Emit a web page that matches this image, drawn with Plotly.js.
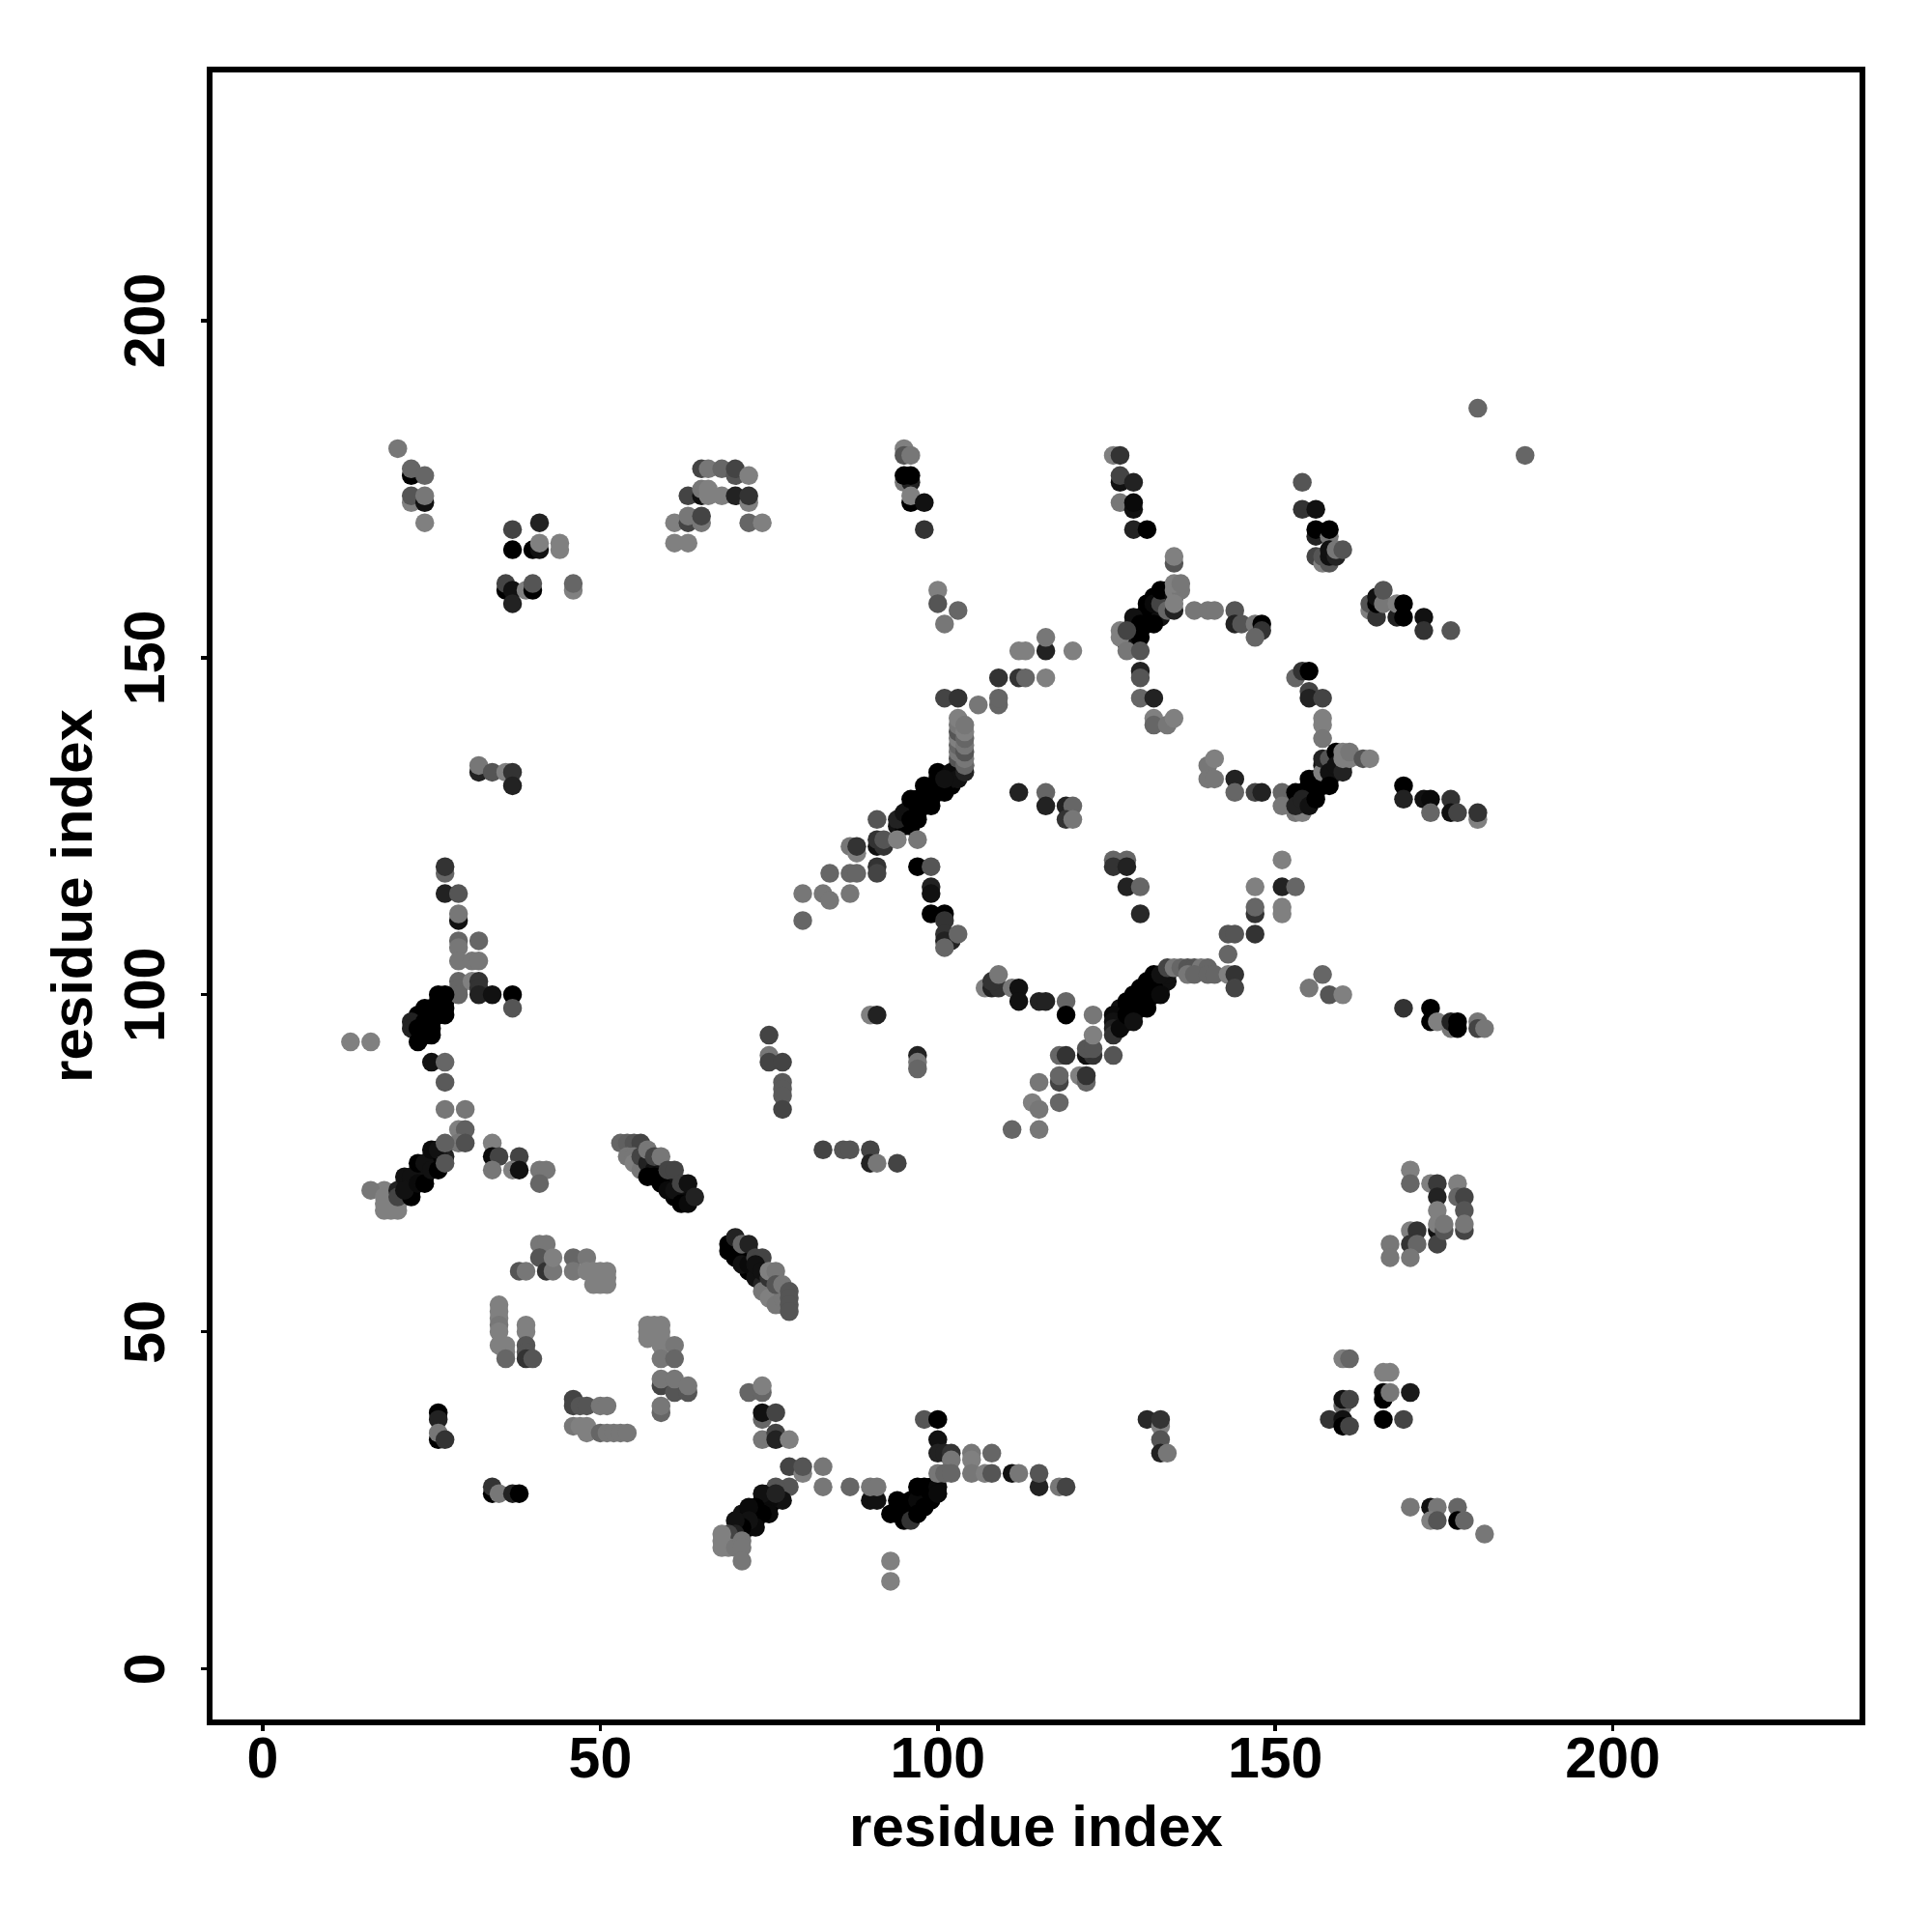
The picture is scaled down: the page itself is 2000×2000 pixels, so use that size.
<!DOCTYPE html>
<html>
<head>
<meta charset="utf-8">
<script src="https://cdn.plot.ly/plotly-3.0.1.min.js"></script>
<style>html,body{margin:0;padding:0;background:#fff}#chart{width:2000px;height:2000px}</style>
</head>
<body>
<div id="chart"></div>
<script>
// every contact: [residue i, residue j, grey level]
const helixInnerContacts = [[21,72,17],[22,71,17],[22,72,0],[23,73,0],[23,74,0],[24,73,0],[24,74,17],[25,75,0],[25,76,0],[26,75,17],[26,76,0],[21,71,34],
 [57,74,17],[58,75,17],[59,74,17],[59,73,0],[60,73,17],[60,72,0],[61,72,17],[61,70,0],[62,71,17],[62,70,0],[63,70,10],
 [70,63,17],[70,62,0],[70,61,0],[71,62,17],[71,61,0],[72,62,17],[72,61,0],[72,59,0],[73,59,17],[74,58,17],[75,57,34],[75,56,68],[76,56,85],[76,55,102],[77,56,119],[77,54,119],
 [71,22,0],[71,20,34],[71,23,17],[72,23,10],[72,21,0],[73,23,0],[73,22,0],[74,25,10],[74,24,0],[75,24,0],[75,26,17],[76,25,0],
 [94,23,0],[95,24,0],[96,23,0],[96,25,0],[97,24,0],[97,26,0],[98,25,0],[98,26,0],[99,25,0],[99,27,0],
 [94,125,17],[95,125,0],[95,126,0],[96,125,0],[96,128,17],[97,127,0],[97,129,0],[98,128,0],[98,129,0],[99,129,0],[99,130,0],[100,131,0],[100,132,0],[101,131,0],[102,131,0],[102,132,17],[103,133,34],[103,134,51],[104,134,85],
 [127,96,0],[127,97,10],[127,98,17],[128,96,17],[128,98,0],[129,97,0],[129,98,0],[129,99,0],[130,98,0],[130,100,0],[131,99,0],[131,100,0],[131,101,0],[132,100,0],[132,102,0],[133,101,0],[133,102,0],[134,102,17],[134,103,17],
 [128,152,17],[129,154,0],[129,155,0],[130,154,0],[130,156,0],[131,155,0],[131,156,0],[131,157,0],[132,156,0],[132,157,0],[132,159,0],[133,156,17],[133,159,0],[134,158,17],[134,159,17],[134,160,34],
 [153,129,0],[154,128,17],[154,130,0],[155,129,0],[155,130,0],[155,131,0],[156,130,0],[156,132,0],[157,131,0],[157,132,0],[157,134,17],[158,132,0],[158,134,17],[159,133,17],[159,135,17],[160,134,34],
 [23,96,0],[23,97,0],[24,95,0],[25,95,0],[25,96,0],[25,97,0],[26,97,0],[26,98,0],[27,98,0],[27,99,0]];
const lowerLeftArm = [[25,90,17],[27,90,102],[27,87,90],[27,83,119],[30,83,119],[29,80,128],[30,80,96],[29,78,119],[30,78,80],
 [18,71,128],[16,71,119],[18,70,128],[18,69,128],[18,68,128],[19,70,128],[19,69,128],[19,68,128],[20,69,128],[20,68,128],[20,71,34],[20,70,68],
 [21,73,17],[22,73,17],[22,70,0],[21,71,17],[23,75,0],[24,75,17],[23,72,10],[24,72,0],[25,77,10],[25,74,17],[26,74,0],[27,76,34],[26,77,17],[27,75,85],[27,78,96]];
const lowerArmB = [[34,78,128],[34,76,10],[35,76,68],[38,76,68],[34,74,119],[37,74,128],[38,74,17],[41,74,119],[42,74,119],[41,72,102]];
const helixBandA = [[53,78,102],[54,78,96],[55,78,85],[56,78,68],[54,76,119],[55,76,119],[55,75,128],[56,74,119],[56,76,68],[57,75,34],[58,74,17],[57,73,0],[58,73,0],[59,72,0],
 [57,77,119],[58,76,68],[59,76,119],[60,74,68],[61,74,68],[60,71,10],[61,71,17],[62,69,0],[63,69,10],[62,72,68],[63,72,17],[64,70,34]];
const helixBandB = [[69,63,0],[69,62,0],[70,64,34],[71,60,17],[72,60,10],[73,58,17],[74,57,34],[74,56,119],[75,55,128],[76,54,119],[77,55,119],
 [71,63,102],[72,63,34],[73,61,68],[74,61,68],[73,60,17],[74,59,17],[75,58,51],[75,59,128],[76,59,119],[76,57,85],[77,57,119],[78,56,85],[78,55,85],[78,54,85],[78,53,85]];
const ringTop = [[41,63,119],[42,63,119],[41,61,85],[42,59,51],[43,59,119],[43,61,128],[38,59,85],[39,59,119],[46,61,102],[48,61,119],[46,59,119],[48,59,128],[49,59,128],[50,59,128],[51,59,128],[50,58,128],[51,58,128],[49,57,128],[50,57,128],[51,57,128]];
const ringLeft = [[35,54,128],[35,53,128],[35,52,128],[35,51,119],[35,50,128],[35,48,128],[36,48,128],[36,47,128],[36,46,102],[39,51,128],[39,50,128],[39,48,85],[39,47,85],[39,46,51],[40,46,85]];
const ringRight = [[57,51,128],[58,51,128],[59,51,128],[57,50,128],[59,50,128],[57,49,128],[59,49,128],[59,48,128],[61,48,119],[59,46,119],[61,46,102],[59,42,68],[59,43,119],[61,41,85],[61,43,119],[63,41,85],[63,42,119],[59,38,102],[59,39,119]];
const ringBottom = [[46,40,68],[46,39,68],[47,39,85],[48,39,85],[50,39,119],[51,39,119],[46,36,119],[47,36,128],[48,36,128],[48,35,128],[50,35,102],[51,35,119],[52,35,119],[53,35,119],[54,35,119]];
const bottomLeft = [[26,38,0],[26,37,34],[26,34,0],[26,35,119],[27,34,51],[34,26,0],[34,27,51],[35,26,119],[37,26,34],[38,26,0]];
const lowerBandA = [[72,41,102],[74,41,102],[74,42,128],[74,37,102],[74,38,17],[76,38,68],[74,34,119],[76,35,68],[76,34,34],[78,34,128],[78,30,68],[80,29,128],[80,30,85],[83,30,119],[83,27,119],[87,27,102],[78,27,85],[76,27,85],
 [77,25,17],[75,25,10],[75,23,10],[74,26,17],[76,26,34],[74,23,0],[73,24,0],[72,24,10],[73,21,10],[72,22,17],[71,21,0],[70,22,17],[70,20,34],[70,19,34],
 [69,20,68],[68,20,128],[68,19,128],[68,18,128],[69,18,128],[70,18,119],[71,19,119],[71,18,119],[71,16,119]];
const lowerBandB = [[90,25,17],[91,25,17],[90,27,119],[91,27,119],[93,16,128],[93,13,128],
 [93,23,0],[94,25,0],[94,24,0],[95,23,0],[95,22,0],[96,24,0],[96,22,51],[97,25,10],[97,23,0],[98,24,0],[97,27,0],[98,27,0],[99,26,0],[100,27,10],[100,26,10],
 [98,37,85],[100,37,0],[100,34,17],[100,32,34],[101,32,34],[102,32,51],[102,31,119],[100,29,119],[101,29,102],[102,29,102],[105,32,119],[105,31,128],[105,29,119],[107,29,128],[108,29,85],[108,32,102],
 [111,29,17],[112,29,119],[115,27,34],[115,29,85],[118,27,119],[119,27,68],[131,37,40],[133,36,128],[133,37,51],[133,34,85],[133,32,34],[134,32,119]];
const midStrand = [[83,77,68],[86,77,85],[87,77,85],[90,77,68],[90,75,34],[91,75,119],[94,75,68],
 [75,94,68],[75,91,119],[75,90,68],[77,90,68],[77,87,90],[77,86,90],[77,85,90],[77,83,68],[90,97,128],[91,97,34],[97,91,34],[97,90,119],[97,89,102],
 [111,80,102],[115,80,119],[114,84,128],[115,83,119],[118,84,102],[115,87,119],[118,87,68],[118,88,102],[121,88,128],[122,87,102],[122,88,51],
 [118,91,102],[119,91,51],[122,91,17],[123,91,51],[122,92,85],[123,92,85],[123,94,128],[123,97,119],[126,91,85]];
const centerBand = [[126,97,10],[126,96,17],[126,95,34],[126,94,51],[127,95,10],[128,97,0],[129,96,17],[128,99,0],[129,100,0],[130,99,0],[131,98,0],[130,101,0],[131,102,0],[132,101,0],[133,100,10],[132,103,0],[133,103,17],
 [134,104,68],[135,104,119],[136,104,102],[137,104,85],[138,104,85],[139,104,119],[140,104,102],[137,103,119],[138,103,102],[140,103,102],[141,103,102],[143,103,128],[144,103,51],[144,101,68],
 [107,101,128],[108,101,34],[109,101,51],[108,102,51],[109,103,119],[111,101,119],[112,101,17],[112,99,17],[115,99,34],[116,99,34],[119,99,102],[119,97,0]];
const rightLower = [[143,106,102],[143,109,85],[144,109,85],[147,109,51],[147,112,51],[147,113,102],[151,112,128],[151,113,128],[147,116,128],[151,116,34],[153,116,102],[151,120,128],
 [155,101,119],[157,103,102],[158,100,85],[160,100,128],[169,98,51],[173,98,0],[173,96,0],[174,96,128],[176,95,119],[176,96,34],[177,96,0],[177,95,0],[180,96,119],[180,95,68],[181,95,119]];
const innerTurn = [[97,119,0],[99,119,85],[99,116,34],[99,115,17],[99,112,0],[101,112,0],[101,111,51],[101,109,51],[102,108,34],[101,108,34],[103,109,102],[101,107,102],
 [126,120,102],[128,120,102],[126,119,51],[128,119,34],[128,116,34],[130,116,102],[130,112,40]];
const bigBand = [[80,115,119],[80,111,102],[83,115,119],[84,114,119],[87,115,119],[84,118,102],[87,118,102],[88,118,102],[87,122,119],[88,121,128],[88,122,51],
 [91,119,51],[91,118,68],[91,122,17],[92,122,51],[91,123,51],[92,123,85],[91,126,85],[94,123,128],[97,123,119],[94,126,34],[95,127,17],[96,126,0],[97,126,0],[96,129,0],[97,128,0],[98,131,0],[99,128,0],[100,130,0],[101,130,0],[100,133,0],[102,133,10],[103,132,17],[101,132,17],[104,133,34],
 [103,135,85],[104,134,102],[103,136,119],[104,135,119],[103,137,102],[104,136,85],[103,138,128],[104,137,119],[103,139,85],[104,138,102],[103,140,119],[104,139,128],[103,141,128],[104,140,119],[101,144,68],[103,144,51],[106,143,119],[109,143,102],[109,144,102],
 [109,147,51],[112,147,51],[113,147,102],[116,147,128],[112,151,128],[113,151,128],[116,151,34],[116,153,119],[120,151,128],
 [112,130,34],[116,130,102],[116,128,34],[119,128,34],[120,128,102],[119,126,51],[120,126,119]];
const upperCurve = [[129,156,17],[130,155,0],[129,153,0],[128,153,17],[130,153,0],[127,154,128],[127,153,128],[128,154,68],[128,151,119],[130,151,85],[131,158,0],[132,155,0],[132,158,10],[133,158,68],[133,160,0],[134,157,102],[135,157,34],[135,159,17],
 [135,160,128],[136,160,119],[135,161,128],[136,161,119],[135,158,128],[135,164,85],[135,165,128],[138,157,119],[140,157,119],[141,157,119],[144,157,85],[144,155,34],[145,155,85],[147,155,119],[148,155,0],[148,154,51],[147,153,102],
 [130,148,34],[130,147,85],[130,144,102],[132,144,34],[132,141,128],[132,140,102],[134,140,119],[135,141,128]];
const rightArc = [[153,147,102],[154,148,51],[155,148,0],[155,145,68],[155,144,34],[157,144,68],[157,141,128],[157,140,128],[157,138,119],
 [140,134,119],[141,135,128],[140,132,119],[141,132,119],[144,132,34],[144,130,102],[147,130,68],[148,130,34],
 [151,130,102],[151,128,119],[153,127,119],[154,127,128],[153,130,0],[153,128,34],[154,129,34],[155,128,17],[155,132,0],[156,131,0],[156,129,0],[157,133,128],[157,135,34],[158,135,85],[158,133,17],[158,131,0],[159,136,0],[159,134,17],[160,133,34],[160,135,128],[160,136,128],[161,135,128],[161,136,119],[163,135,85],[164,135,128],
 [169,131,0],[169,129,34],[172,129,17],[173,129,10],[176,129,51],[173,127,102],[176,127,17],[177,127,68],[180,126,128],[180,127,51]];
const topLeftGroup = [[20,181,119],[22,177,0],[22,178,102],[24,177,102],[22,173,128],[22,174,85],[24,173,17],[24,174,119],[24,170,128],
 [37,169,68],[41,170,34],[37,166,0],[40,166,0],[41,166,17],[41,167,128],[44,166,128],[44,167,128],
 [36,160,0],[36,161,68],[37,160,17],[37,158,34],[39,160,128],[40,160,0],[40,161,85],[46,160,128],[46,161,102],
 [32,133,34],[32,134,119],[34,133,85],[36,133,128],[37,133,51],[37,131,34]];
const topMiddle = [[65,178,68],[66,178,119],[68,178,102],[70,177,85],[70,178,68],[72,177,128],[63,174,68],[65,174,17],[65,175,119],[66,174,128],[66,175,128],[68,174,128],[70,174,34],[72,173,128],[72,174,51],
 [61,170,128],[63,170,68],[63,171,119],[65,170,119],[65,171,68],[72,170,102],[74,170,128],[61,167,128],[63,167,128],
 [95,181,128],[95,180,85],[96,180,119],[95,176,119],[96,176,34],[95,177,0],[96,177,0],[96,173,0],[96,174,128],[98,173,17],[98,169,51],[100,160,128],[100,158,85],[103,157,102],[101,155,119]];
const topRight = [[126,180,128],[127,180,51],[127,176,17],[127,177,68],[129,176,34],[127,173,119],[129,172,17],[129,173,10],[129,169,34],[131,169,0],
 [154,176,85],[154,172,51],[156,172,17],[156,168,34],[156,169,0],[158,168,119],[158,169,0],[156,165,68],[157,164,128],[158,164,85],[157,165,85],[158,165,17],[158,166,17],[159,165,34],[159,166,119],[160,166,85],
 [164,157,128],[164,158,85],[165,156,51],[165,158,0],[165,159,17],[166,158,119],[166,160,85],[168,156,34],[168,158,128],[169,156,0],[169,158,0],[172,156,17],[172,154,51],[176,154,85],[180,187,102],[187,180,102]];
const rightLowerGroup = [[170,74,128],[170,72,102],[173,72,128],[174,72,58],[177,72,128],[174,70,34],[177,70,102],[178,70,68],[174,68,128],[178,68,85],[174,65,17],[174,63,68],[174,66,128],[175,65,85],[175,66,119],[178,65,68],[178,66,119],
 [170,65,128],[171,65,51],[170,63,51],[171,63,102],[167,63,119],[167,61,119],[170,61,119],
 [160,46,128],[161,46,102],[166,44,128],[167,44,128],[166,40,0],[166,41,0],[167,41,119],[170,41,26],[160,39,102],[160,40,17],[161,40,68],[158,37,51],[160,37,17],[160,36,0],[161,36,68],[166,37,0],[169,37,68],
 [170,24,119],[173,24,17],[174,24,119],[177,24,102],[173,22,128],[174,22,85],[177,22,0],[178,22,102],[181,20,119]];
const leftColumn = [[27,118,102],[27,119,51],[27,115,34],[29,115,85],[29,111,17],[29,112,119],[29,108,102],[29,107,119],[32,108,102],[29,105,119],[31,105,119],[32,105,119],
 [29,102,102],[29,101,102],[29,100,102],[31,102,128],[32,102,51],[32,101,51],[32,100,34],[34,100,17],[37,100,0],[37,98,85],
 [26,100,0],[27,100,0],[26,99,0],[25,98,0],[24,98,0],[27,97,0],[24,97,0],[22,96,34],[22,95,34],[23,95,0],[24,96,0],[23,93,0],[24,94,0],[25,94,0],[13,93,128],[16,93,128]];
const tickValues = [0, 50, 100, 150, 200];
const tickLabels = ["0", "50", "100", "150", "200"];
const axisLabel = "residue index";

const contacts = [].concat(helixInnerContacts, lowerLeftArm, lowerArmB, helixBandA, helixBandB, ringTop, ringLeft, ringRight, ringBottom, bottomLeft, lowerBandA, lowerBandB, midStrand, centerBand, rightLower, innerTurn, bigBand, upperCurve, rightArc, topLeftGroup, topMiddle, topRight, rightLowerGroup, leftColumn);

const tickFont = {family: '"Liberation Sans", Arial, sans-serif', size: 59, color: '#000', weight: 700};
const titleFont = {family: '"Liberation Sans", Arial, sans-serif', size: 60, color: '#000', weight: 700};
const baseAxis = {
  showgrid: false, zeroline: false, showline: true, mirror: true, linecolor: '#000', linewidth: 6,
  ticks: 'outside', ticklen: 6, tickwidth: 3.5, tickcolor: '#000',
  tickmode: 'array', tickvals: tickValues, ticktext: tickLabels, tickfont: tickFont, automargin: false
};
Plotly.newPlot('chart', [{
  type: 'scatter', mode: 'markers',
  x: contacts.map(c => c[0]), y: contacts.map(c => c[1]),
  marker: {size: 19.5, line: {width: 0}, opacity: 1, color: contacts.map(c => `rgb(${c[2]},${c[2]},${c[2]})`)},
  hoverinfo: 'x+y'
}], {
  width: 2000, height: 2000, showlegend: false, paper_bgcolor: '#fff', plot_bgcolor: '#fff',
  margin: {l: 220, r: 75, t: 75, b: 220, pad: 0},
  xaxis: Object.assign({}, baseAxis, {range: [-7.44, 236.55], ticklabelstandoff: -23, title: {text: axisLabel, font: titleFont, standoff: 19}}),
  yaxis: Object.assign({}, baseAxis, {range: [-7.5, 236.8], tickangle: -90, ticklabelstandoff: 14, ticklabelshift: 9, title: {text: axisLabel, font: titleFont, standoff: 4}})
}, {displayModeBar: false, staticPlot: true});
</script>
</body>
</html>
